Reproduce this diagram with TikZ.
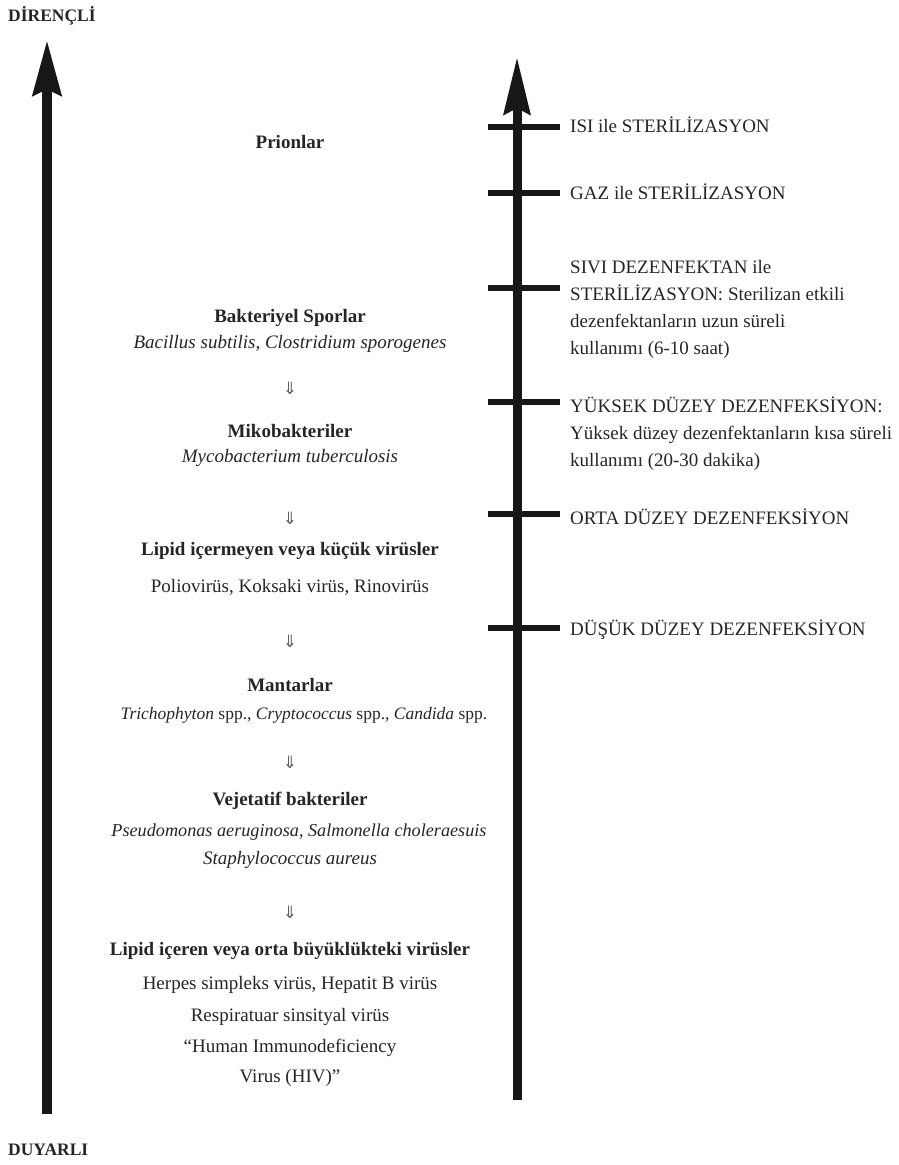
\documentclass[tikz,border=0pt]{standalone}
\usepackage{fontspec}
\setmainfont{Liberation Serif}
\newfontfamily\symfont{DejaVu Sans}
\usetikzlibrary{arrows.meta}
\definecolor{ink}{HTML}{252525}
\definecolor{bar}{HTML}{171717}
\begin{document}
\begin{tikzpicture}[x=1pt,y=-1pt,
  txt/.style={inner sep=0pt,text=ink,font=\fontsize{19}{27}\selectfont},
  head/.style={txt,font=\fontsize{19}{27}\selectfont\bfseries},
  axislabel/.style={txt,anchor=west,font=\fontsize{17.5}{20}\selectfont\bfseries},
  lvl/.style={txt,anchor=west,align=left},
  down/.style={inner sep=0pt,text=ink!75,font=\symfont\fontsize{17}{17}\selectfont},
  bigarrow/.style={draw=bar,line width=10pt,-{Stealth[length=55pt,width=28pt,inset=6pt]}},
  tick/.style={draw=bar,line width=6pt}]
\useasboundingbox (0,0) rectangle (898,1165);

% axis labels
\node[axislabel] (dir) at (8,16) {DİRENÇLİ};
\node[axislabel] (duy) at (8,1150) {DUYARLI};

% left resistance axis
\coordinate (la0) at (47,1114);
\coordinate (la1) at (47,40);
\draw[bigarrow] (la0) -- (la1);

% right treatment axis
\coordinate (ra0) at (517,1100);
\coordinate (ra1) at (517,57);
\draw[bigarrow,line width=9pt,-{Stealth[length=57pt,width=26pt,inset=6pt]}] (ra0) -- (ra1);

% tick marks on the treatment axis
\foreach \n/\y in {t1/127,t2/193,t3/288,t4/402,t5/514,t6/628}{
  \coordinate (\n a) at (488,\y);
  \coordinate (\n b) at (560,\y);
  \draw[tick] (\n a) -- (\n b);
}

% treatment levels
\node[lvl] (isi) at (570,125) {ISI ile STERİLİZASYON};
\node[lvl] (gaz) at (570,192) {GAZ ile STERİLİZASYON};
\node[lvl] (siv) at (570,309) {SIVI DEZENFEKTAN ile\\STERİLİZASYON: Sterilizan etkili\\dezenfektanların uzun süreli\\kullanımı (6-10 saat)};
\node[lvl] (yuk) at (570,434) {YÜKSEK DÜZEY DEZENFEKSİYON:\\Yüksek düzey dezenfektanların kısa süreli\\kullanımı (20-30 dakika)};
\node[lvl] (ort) at (570,517) {ORTA DÜZEY DEZENFEKSİYON};
\node[lvl] (dus) at (570,630) {DÜŞÜK DÜZEY DEZENFEKSİYON};

% organisms, from most to least resistant
\node[head] (pri) at (290,142) {Prionlar};

\node[head] (spo) at (290,318) {Bakteriyel Sporlar};
\node[txt]  (spo2) at (290,344) {\itshape Bacillus subtilis, Clostridium sporogenes};
\node[down] (d1) at (290,388) {⇓};

\node[head] (mik) at (290,431) {Mikobakteriler};
\node[txt]  (mik2) at (290,458) {\itshape Mycobacterium tuberculosis};
\node[down] (d2) at (290,518) {⇓};

\node[head] (lip) at (290,551) {Lipid içermeyen veya küçük virüsler};
\node[txt]  (lip2) at (290,587) {Poliovirüs, Koksaki virüs, Rinovirüs};
\node[down] (d3) at (290,641) {⇓};

\node[head] (man) at (290,685) {Mantarlar};
\node[txt,font=\fontsize{17.5}{27}\selectfont] (man2) at (304,715) {\textit{Trichophyton} spp., \textit{Cryptococcus} spp., \textit{Candida} spp.};
\node[down] (d4) at (290,762) {⇓};

\node[head] (vej) at (290,801) {Vejetatif bakteriler};
\node[txt,font=\fontsize{18.2}{27}\selectfont]  (vej2) at (299,832) {\itshape Pseudomonas aeruginosa, Salmonella choleraesuis};
\node[txt]  (vej3) at (290,860) {\itshape Staphylococcus aureus};
\node[down] (d5) at (290,912) {⇓};

\node[head] (lic) at (290,951) {Lipid içeren veya orta büyüklükteki virüsler};
\node[txt]  (lic2) at (290,985) {Herpes simpleks virüs, Hepatit B virüs};
\node[txt]  (lic3) at (290,1017) {Respiratuar sinsityal virüs};
\node[txt]  (lic4) at (290,1048) {“Human Immunodeficiency};
\node[txt]  (lic5) at (290,1078) {Virus (HIV)”};
\end{tikzpicture}
\end{document}
